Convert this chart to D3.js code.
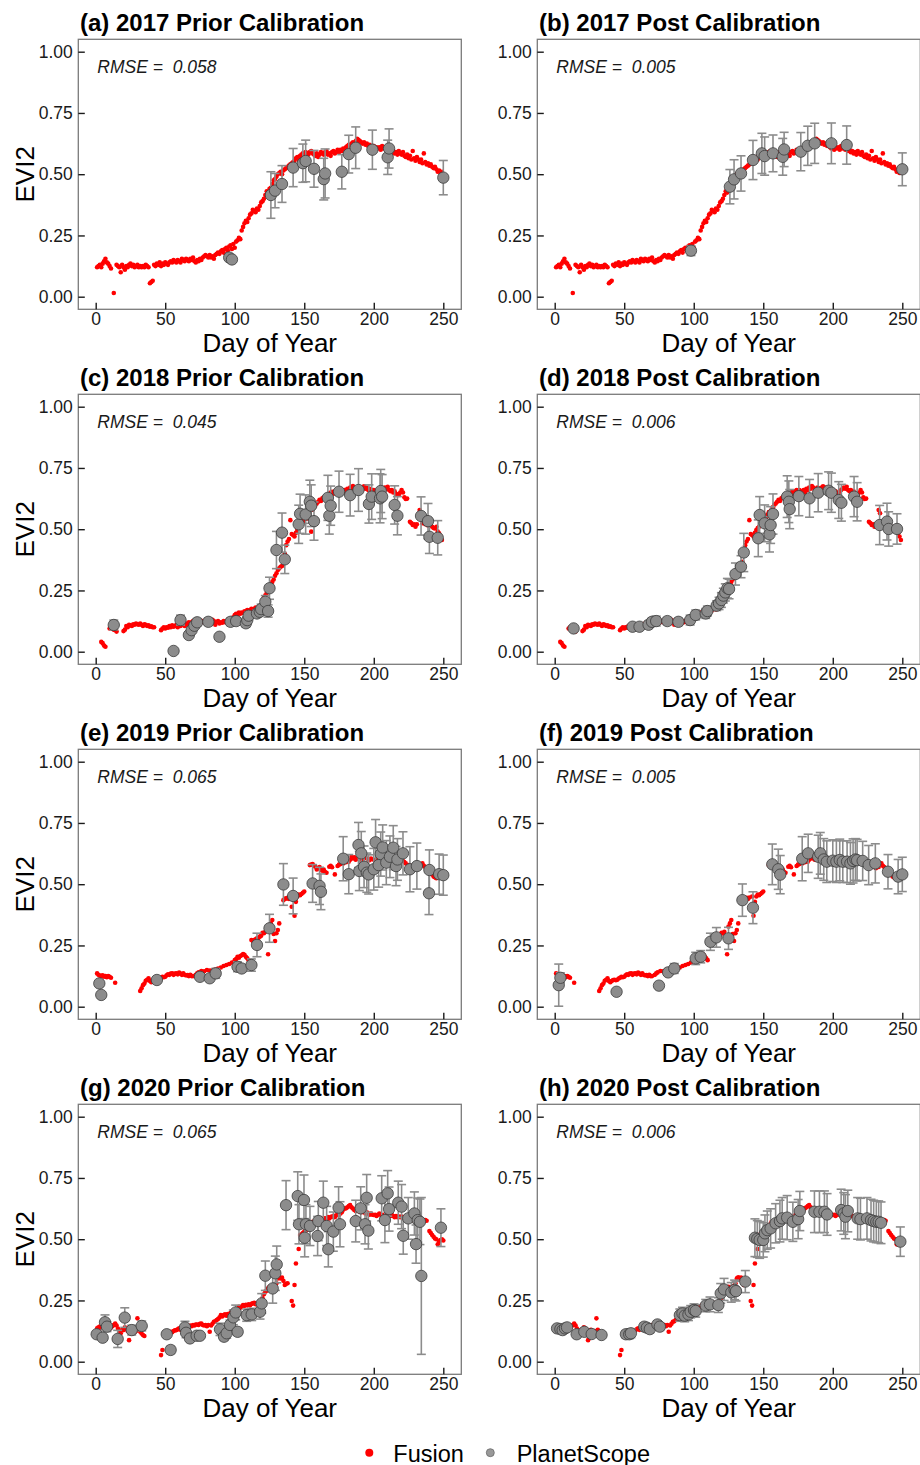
<!DOCTYPE html>
<html>
<head>
<meta charset="utf-8">
<title>EVI2 fusion vs PlanetScope</title>
<script src="https://d3js.org/d3.v7.min.js"></script>
<style>
  body { margin: 0; background: #fff; }
  text { font-family: "Liberation Sans", Arial, sans-serif; }
</style>
</head>
<body>
<svg id="chart" width="920" height="1465"></svg>
<script>
// ---- data ----
const panelTitles = [
  "(a) 2017 Prior Calibration", "(b) 2017 Post Calibration",
  "(c) 2018 Prior Calibration", "(d) 2018 Post Calibration",
  "(e) 2019 Prior Calibration", "(f) 2019 Post Calibration",
  "(g) 2020 Prior Calibration", "(h) 2020 Post Calibration"
];
const rmseLabels = ["0.058", "0.005", "0.045", "0.006", "0.065", "0.005", "0.065", "0.006"];
const xTicks = [0, 50, 100, 150, 200, 250];
const yTicks = [0, 0.25, 0.5, 0.75, 1];
const legendLabels = ["Fusion", "PlanetScope"];

// fusion series [day, EVI2] (same in prior / post panels of a year)
const fusion2017 = [[1,0.12],[2,0.125],[3,0.13],[4,0.12],[5,0.135],[6,0.145],[7,0.155],[8,0.14],[9,0.135],[10,0.125],[11,0.115],[13,0.015],[15,0.13],[16,0.125],[17,0.12],[18,0.10],[19,0.13],[20,0.12],[21,0.11],[22,0.125],[23,0.12],[24,0.13],[25,0.135],[26,0.125],[27,0.13],[28,0.12],[29,0.125],[30,0.13],[31,0.12],[32,0.125],[33,0.12],[34,0.125],[35,0.12],[36,0.13],[37,0.125],[38,0.12],[39,0.055],[40,0.06],[41,0.065],
  [42,0.13],[43,0.125],[44,0.135],[45,0.13],[46,0.14],[47,0.125],[48,0.135],[49,0.13],[50,0.14],[51,0.135],[52,0.13],[53,0.14],[54,0.145],[55,0.14],[56,0.15],[57,0.145],[58,0.14],[59,0.15],[60,0.145],[61,0.14],[62,0.155],[63,0.15],[64,0.145],[65,0.155],[66,0.15],[67,0.145],[68,0.155],[69,0.15],[70,0.16],[71,0.145],[72,0.14],[73,0.15],[74,0.145],[75,0.155],[76,0.15],[77,0.16],[78,0.165],[79,0.17],[80,0.165],[81,0.16],[82,0.17],[83,0.16],[84,0.165],[85,0.155],[86,0.17],[87,0.175],[88,0.18],[89,0.175],[90,0.185],[91,0.19],[92,0.18],[93,0.195],[94,0.2],[95,0.19],[96,0.205],[97,0.21],[98,0.195],[99,0.215],[100,0.2],
  [101,0.225],[102,0.23],[103,0.24],[104,0.235],[105,0.27],[106,0.285],[107,0.3],[108,0.31],[109,0.305],[110,0.32],[111,0.335],[112,0.34],[113,0.355],[114,0.35],[115,0.345],[116,0.36],[117,0.355],[118,0.37],[119,0.385],[120,0.39],[121,0.4],[122,0.415],[123,0.43],[124,0.425],[125,0.44],[126,0.445],[127,0.46],[128,0.475],[129,0.48],[130,0.49],[131,0.5],[132,0.505],[133,0.51],[134,0.5],[135,0.515],[136,0.52],[137,0.525],[138,0.53],[139,0.535],[140,0.54],[141,0.545],[142,0.55],[143,0.555],[144,0.565],[145,0.57],[146,0.56],[147,0.575],[148,0.58],[149,0.585],[150,0.575],
  [151,0.59],[152,0.585],[153,0.58],[154,0.59],[155,0.595],[156,0.585],[157,0.58],[158,0.575],[159,0.585],[160,0.57],[161,0.58],[162,0.59],[163,0.585],[164,0.58],[165,0.59],[166,0.595],[167,0.58],[168,0.585],[169,0.575],[170,0.59],[171,0.595],[172,0.585],[173,0.59],[174,0.6],[175,0.59],[176,0.6],[177,0.595],[178,0.605],[179,0.6],[180,0.61],[181,0.615],[182,0.62],[183,0.61],[184,0.625],[185,0.63],[186,0.62],[187,0.635],[188,0.645],[189,0.64],[190,0.635],[191,0.63],[192,0.625],[193,0.63],[194,0.62],[195,0.625],[196,0.615],[197,0.62],[198,0.61],[199,0.605],[200,0.615],
  [201,0.6],[202,0.61],[203,0.605],[204,0.61],[205,0.6],[206,0.615],[207,0.605],[208,0.61],[209,0.6],[210,0.605],[211,0.595],[212,0.6],[213,0.59],[214,0.595],[215,0.585],[216,0.59],[217,0.58],[218,0.595],[219,0.585],[220,0.58],[221,0.59],[222,0.575],[223,0.57],[224,0.58],[225,0.565],[226,0.575],[227,0.56],[228,0.595],[229,0.565],[230,0.555],[231,0.57],[232,0.56],[233,0.55],[234,0.56],[235,0.545],[236,0.585],[237,0.55],[238,0.54],[239,0.545],[240,0.535],[241,0.54],[242,0.53],[243,0.525],[244,0.53],[245,0.52],[246,0.51],[247,0.515],[248,0.505],[249,0.51]];

const fusion2018 = [[4,0.04],[5,0.035],[6,0.025],[7,0.02],[10,0.095],[11,0.1],[12,0.095],[13,0.09],[14,0.088],[15,0.082],[20,0.084],[21,0.09],[22,0.105],[23,0.1],[24,0.11],[25,0.108],[26,0.105],[27,0.112],[28,0.11],[29,0.115],[30,0.112],[31,0.11],[32,0.115],[33,0.11],[34,0.105],[35,0.112],[36,0.11],[37,0.105],[38,0.108],[39,0.102],[40,0.104],[41,0.1],[42,0.1],
  [47,0.088],[48,0.095],[49,0.1],[50,0.095],[51,0.1],[52,0.098],[53,0.105],[54,0.1],[55,0.108],[56,0.102],[57,0.105],[58,0.11],[59,0.1],[60,0.108],[61,0.105],[62,0.11],[63,0.112],[64,0.105],[65,0.115],[66,0.11],[67,0.12],[68,0.115],[69,0.12],[70,0.125],[71,0.118],[72,0.12],[73,0.125],[74,0.12],[75,0.128],[76,0.12],[77,0.125],[78,0.122],[79,0.118],[80,0.12],[81,0.125],[82,0.115],[83,0.12],[84,0.13],[85,0.125],[86,0.11],[87,0.12],[88,0.125],[89,0.115],[90,0.12],[91,0.118],[92,0.125],[93,0.12],[94,0.125],[95,0.13],[96,0.125],[97,0.13],[98,0.135],[99,0.14],[100,0.15],
  [101,0.155],[102,0.15],[103,0.16],[104,0.155],[105,0.16],[106,0.158],[107,0.165],[108,0.16],[109,0.17],[110,0.165],[111,0.17],[112,0.175],[113,0.168],[114,0.175],[115,0.18],[116,0.172],[117,0.18],[118,0.185],[119,0.19],[120,0.21],[121,0.22],[122,0.23],[123,0.24],[124,0.25],[125,0.265],[126,0.275],[127,0.285],[128,0.295],[129,0.31],[130,0.32],[131,0.333],[132,0.34],[133,0.347],[134,0.35],[135,0.367],[136,0.4],[137,0.435],[138,0.45],[139,0.46],[140,0.537],[141,0.48],[142,0.476],[143,0.47],[144,0.485],[145,0.497],[146,0.505],[147,0.51],[148,0.524],[149,0.53],[150,0.54],
  [151,0.545],[152,0.544],[153,0.56],[154,0.57],[155,0.49],[156,0.58],[157,0.59],[158,0.6],[159,0.605],[160,0.612],[161,0.62],[162,0.615],[163,0.626],[164,0.63],[165,0.625],[166,0.635],[167,0.64],[168,0.645],[169,0.65],[170,0.653],[171,0.645],[172,0.655],[173,0.65],[174,0.66],[175,0.655],[176,0.66],[177,0.65],[178,0.655],[179,0.66],[180,0.65],[181,0.665],[182,0.66],[183,0.67],[184,0.665],[185,0.676],[186,0.67],[187,0.66],[188,0.665],[189,0.67],[190,0.667],[191,0.66],[192,0.67],[193,0.675],[194,0.665],[195,0.67],[196,0.66],[197,0.665],[198,0.655],[199,0.66],[200,0.66],
  [201,0.65],[202,0.655],[203,0.645],[204,0.65],[205,0.653],[206,0.66],[207,0.665],[208,0.67],[209,0.665],[210,0.673],[211,0.66],[212,0.655],[213,0.66],[214,0.65],[215,0.655],[216,0.645],[217,0.64],[218,0.64],[219,0.65],[220,0.66],[221,0.65],[222,0.63],[223,0.623],[224,0.625],[226,0.53],[227,0.525],[228,0.517],[229,0.52],[230,0.51],[231,0.52],[233,0.578],[234,0.565],[235,0.524],[236,0.53],[237,0.52],[238,0.525],[239,0.515],[240,0.52],[241,0.515],[242,0.51],[243,0.505],[244,0.503],[245,0.51],[246,0.49],[247,0.483],[248,0.47],[249,0.456]];

const fusion2019 = [[1,0.136],[2,0.13],[3,0.127],[4,0.125],[5,0.128],[6,0.122],[7,0.125],[8,0.12],[9,0.125],[10,0.122],[11,0.118],[14,0.098],
  [32,0.064],[33,0.075],[34,0.088],[35,0.095],[36,0.106],[37,0.11],[38,0.116],[39,0.105],[40,0.1],[41,0.105],[42,0.109],[43,0.11],[44,0.108],[45,0.11],[46,0.115],[47,0.118],[48,0.122],[49,0.12],[50,0.122],[51,0.128],[52,0.132],[53,0.13],[54,0.135],[55,0.136],[56,0.13],[57,0.135],[58,0.136],[59,0.132],[60,0.139],[61,0.135],[62,0.13],[63,0.136],[64,0.13],[65,0.128],[66,0.129],[67,0.125],[68,0.13],[69,0.125],[70,0.125],[72,0.13],[73,0.136],[74,0.14],[76,0.146],[78,0.145],[80,0.15],[82,0.148],[84,0.15],[86,0.152],[88,0.156],[90,0.16],[92,0.166],[94,0.17],[96,0.174],[98,0.18],[100,0.19],
  [101,0.195],[102,0.204],[103,0.2],[104,0.207],[105,0.21],[106,0.215],[107,0.212],[108,0.204],[109,0.198],[110,0.19],[112,0.272],[113,0.268],[114,0.272],[115,0.275],[116,0.279],[117,0.28],[118,0.286],[119,0.29],[120,0.302],[121,0.3],[122,0.306],[124,0.214],[125,0.327],[126,0.34],[127,0.354],[128,0.297],[129,0.268],[130,0.3],[131,0.313],[132,0.34],[135,0.435],[136,0.44],[137,0.442],[138,0.445],[139,0.44],[140,0.446],[141,0.408],[142,0.45],[143,0.371],[144,0.428],[145,0.45],[146,0.458],[147,0.455],[148,0.46],[149,0.465],[150,0.47],
  [154,0.578],[155,0.58],[156,0.582],[157,0.575],[158,0.571],[159,0.56],[160,0.565],[161,0.57],[162,0.558],[163,0.555],[164,0.56],[165,0.55],[166,0.547],[168,0.571],[169,0.575],[170,0.569],[172,0.54],[174,0.574],[175,0.58],[176,0.582],[178,0.585],[180,0.59],[182,0.592],[183,0.6],[184,0.612],[185,0.605],[186,0.61],[187,0.6],[188,0.605],[190,0.612],[191,0.6],[192,0.605],[193,0.61],[195,0.605],[196,0.6],[197,0.598],[198,0.605],[200,0.6],
  [201,0.595],[202,0.6],[203,0.605],[205,0.601],[206,0.598],[207,0.595],[208,0.6],[210,0.605],[211,0.6],[212,0.598],[213,0.6],[215,0.605],[216,0.6],[217,0.595],[218,0.61],[220,0.6],[221,0.595],[222,0.59],[223,0.585],[225,0.578],[226,0.575],[227,0.57],[228,0.575],[230,0.57],[231,0.565],[232,0.575],[233,0.57],[235,0.585],[236,0.575],[237,0.57],[238,0.565],[239,0.56],[240,0.558],[241,0.545],[242,0.54],[243,0.531],[244,0.528],[245,0.524]];

const fusion2020 = [[1,0.136],[2,0.14],[3,0.143],[4,0.138],[5,0.14],[6,0.145],[7,0.142],[8,0.15],[9,0.14],[10,0.135],[11,0.14],[12,0.145],[13,0.15],[14,0.156],[15,0.148],[16,0.135],[17,0.125],[18,0.116],[19,0.13],[20,0.129],[21,0.14],[22,0.135],[23,0.125],[24,0.088],[25,0.12],[26,0.13],[27,0.125],[28,0.12],[29,0.125],[30,0.177],[31,0.13],[32,0.122],[33,0.115],[34,0.109],[35,0.105],
  [47,0.027],[48,0.048],[50,0.122],[51,0.118],[52,0.12],[53,0.115],[54,0.122],[55,0.12],[56,0.125],[57,0.128],[58,0.129],[59,0.132],[60,0.136],[61,0.13],[62,0.138],[63,0.143],[64,0.14],[65,0.145],[66,0.147],[67,0.142],[68,0.148],[69,0.145],[70,0.15],[71,0.148],[72,0.152],[73,0.152],[74,0.15],[75,0.155],[76,0.156],[77,0.15],[78,0.148],[79,0.15],[80,0.145],[81,0.15],[82,0.122],[83,0.148],[84,0.155],[85,0.163],[86,0.165],[87,0.17],[88,0.174],[89,0.18],[90,0.19],[91,0.185],[92,0.19],[93,0.193],[94,0.188],[95,0.195],[96,0.19],[97,0.2],[98,0.197],[99,0.2],[100,0.204],
  [101,0.21],[102,0.215],[103,0.224],[104,0.22],[105,0.225],[106,0.231],[107,0.228],[108,0.232],[109,0.23],[110,0.234],[111,0.23],[112,0.236],[113,0.238],[114,0.24],[115,0.235],[116,0.234],[117,0.24],[118,0.245],[119,0.245],[120,0.26],[121,0.275],[122,0.286],[123,0.29],[124,0.3],[125,0.306],[126,0.3],[127,0.305],[128,0.306],[129,0.31],[130,0.32],[131,0.34],[132,0.345],[133,0.34],[134,0.343],[135,0.33],[136,0.313],[137,0.318],[138,0.32],[141,0.248],[142,0.229],[143,0.313],[144,0.401],[146,0.46],[147,0.517],[148,0.52],[149,0.525],[150,0.531],
  [151,0.535],[152,0.54],[153,0.551],[154,0.555],[155,0.56],[156,0.571],[157,0.565],[158,0.57],[159,0.575],[160,0.578],[161,0.58],[162,0.575],[163,0.58],[164,0.585],[165,0.585],[166,0.58],[167,0.59],[168,0.585],[169,0.59],[170,0.592],[171,0.595],[172,0.59],[173,0.598],[174,0.6],[175,0.599],[176,0.605],[177,0.61],[178,0.62],[179,0.625],[180,0.626],[181,0.63],[182,0.635],[183,0.639],[184,0.63],[185,0.625],[186,0.619],[187,0.615],[188,0.62],[189,0.615],[190,0.612],[191,0.61],[192,0.615],[193,0.61],[194,0.605],[195,0.61],[196,0.605],[197,0.6],[198,0.605],[199,0.6],[200,0.599],
  [201,0.6],[202,0.595],[203,0.6],[204,0.605],[205,0.6],[206,0.598],[207,0.6],[208,0.595],[209,0.6],[210,0.6],[211,0.598],[212,0.595],[213,0.6],[214,0.595],[215,0.59],[216,0.595],[217,0.59],[218,0.592],[219,0.59],[220,0.592],[221,0.588],[222,0.585],[223,0.59],[224,0.585],[225,0.585],[226,0.58],[227,0.582],[228,0.578],[229,0.58],[230,0.578],[231,0.575],[232,0.578],[233,0.58],[234,0.575],[235,0.578],[236,0.575],[237,0.578],[238,0.575],[240,0.533],[241,0.525],[242,0.517],[243,0.51],[244,0.503],[245,0.5],[246,0.479],[247,0.49],[248,0.497],[249,0.5],[250,0.495]];

// PlanetScope [day, EVI2, error half-width]
const planet2017Prior = [[96,0.16,0.01],[98,0.152,0.01],[126,0.415,0.095],[129,0.433,0.07],[134,0.46,0.075],[142,0.527,0.078],[149,0.545,0.078],[151,0.554,0.085],[157,0.522,0.075],[164,0.48,0.085],[165,0.503,0.1],[177,0.51,0.07],[182,0.582,0.077],[187,0.608,0.085],[199,0.6,0.08],[210,0.569,0.07],[211,0.605,0.08],[250,0.486,0.07]];
const planet2017Post = [[98,0.188,0.02],[126,0.449,0.07],[129,0.479,0.08],[134,0.503,0.072],[142.6,0.558,0.08],[149,0.585,0.082],[151,0.574,0.078],[157,0.585,0.075],[164,0.571,0.075],[165,0.601,0.07],[177,0.592,0.078],[182,0.616,0.08],[187,0.626,0.082],[199,0.626,0.083],[210,0.619,0.078],[250,0.52,0.067]];
const planet2018Prior = [[13,0.109,0.02],[56,0.003,0],[61,0.129,0.02],[67,0.068,0.01],[69,0.088,0.01],[71,0.106,0.01],[73,0.12,0.015],[81,0.122,0.015],[89,0.061,0.01],[97,0.122,0.015],[101,0.125,0.015],[108,0.116,0.015],[109,0.129,0.015],[110,0.147,0.015],[116,0.156,0.015],[118,0.163,0.015],[119,0.174,0.02],[122,0.204,0.025],[124,0.166,0.025],[125,0.259,0.045],[130,0.415,0.076],[134,0.486,0.08],[136,0.377,0.058],[146,0.52,0.078],[147,0.563,0.08],[151,0.56,0.08],[154,0.612,0.088],[155,0.596,0.085],[157,0.533,0.078],[167,0.628,0.092],[168,0.555,0.075],[169,0.596,0.08],[175,0.653,0.084],[183,0.639,0.085],[189,0.66,0.087],[196.5,0.603,0.078],[198.5,0.633,0.093],[204.5,0.626,0.1],[205,0.656,0.088],[206,0.633,0.09],[215,0.599,0.078],[217,0.555,0.078],[234,0.554,0.078],[239,0.533,0.072],[240,0.469,0.068],[246,0.465,0.07]];
const planet2018Post = [[13.6,0.095,0.01],[56,0.102,0.012],[61,0.102,0.012],[67.5,0.11,0.015],[70,0.122,0.015],[73,0.125,0.02],[81,0.125,0.015],[89,0.122,0.015],[97.4,0.129,0.02],[101.4,0.15,0.02],[108.6,0.156,0.02],[109.8,0.166,0.02],[116.5,0.188,0.02],[118.2,0.197,0.025],[119.9,0.211,0.03],[121.3,0.229,0.03],[122.7,0.242,0.035],[124.2,0.259,0.04],[125.4,0.256,0.04],[130,0.317,0.045],[134,0.347,0.045],[136,0.405,0.078],[146.4,0.463,0.075],[147.4,0.558,0.075],[151,0.524,0.075],[154.5,0.479,0.072],[155.3,0.517,0.075],[157,0.562,0.082],[167.2,0.633,0.085],[168.4,0.612,0.085],[169,0.582,0.08],[175.6,0.635,0.08],[183.3,0.626,0.077],[189.5,0.649,0.078],[197,0.657,0.077],[199,0.649,0.08],[204.3,0.619,0.075],[206.2,0.608,0.075],[215.3,0.633,0.082],[217.5,0.612,0.078],[233.7,0.517,0.08],[239,0.531,0.075],[240.2,0.501,0.07],[246.2,0.501,0.062]];
const planet2019Prior = [[2.6,0.095,0.01],[4,0.048,0],[44,0.109,0],[75,0.122,0.01],[82,0.116,0.01],[86.3,0.136,0.02],[102,0.163,0.02],[105,0.156,0.015],[112,0.17,0.025],[116,0.252,0.048],[125,0.32,0.057],[135,0.499,0.085],[142,0.452,0.073],[156,0.503,0.077],[161,0.493,0.076],[162,0.469,0.073],[178,0.604,0.09],[182,0.541,0.08],[189,0.66,0.092],[191,0.626,0.089],[189.6,0.554,0.08],[193,0.571,0.085],[195,0.547,0.08],[196.3,0.54,0.08],[200,0.561,0.085],[201.3,0.671,0.093],[203.5,0.578,0.09],[205,0.623,0.09],[206.4,0.65,0.092],[209,0.588,0.09],[211.6,0.612,0.085],[214,0.649,0.09],[216,0.574,0.08],[217,0.601,0.085],[221,0.626,0.088],[226,0.561,0.092],[231,0.574,0.094],[240,0.558,0.082],[239.7,0.463,0.087],[247,0.541,0.082],[250,0.537,0.082]];
const planet2019Post = [[2.9,0.088,0.086],[4.1,0.118,0.02],[44.5,0.061,0],[75,0.086,0],[81.6,0.14,0.01],[86,0.156,0.02],[101.4,0.197,0.025],[105,0.204,0.025],[112,0.265,0.035],[116.3,0.283,0.04],[125,0.279,0.045],[135,0.435,0.066],[142.6,0.404,0.065],[156.5,0.581,0.083],[160.8,0.561,0.082],[162.2,0.539,0.078],[178,0.604,0.09],[182.3,0.626,0.078],[189.5,0.612,0.088],[191,0.626,0.085],[193.5,0.601,0.085],[195.7,0.592,0.085],[200,0.596,0.085],[202.6,0.592,0.085],[205,0.599,0.085],[207.2,0.592,0.085],[210.3,0.592,0.085],[212.7,0.585,0.085],[214.6,0.595,0.09],[216.3,0.601,0.085],[217.5,0.598,0.085],[221.5,0.595,0.08],[225.8,0.578,0.08],[230.6,0.585,0.08],[239.7,0.551,0.07],[247,0.531,0.07],[250,0.54,0.07]];
const planet2020Prior = [[0.7,0.112,0.01],[5,0.098,0.01],[6.7,0.161,0.03],[8.1,0.143,0.02],[15.8,0.093,0.035],[20.9,0.18,0.04],[25.9,0.129,0.02],[33.1,0.146,0.02],[51.1,0.112,0.01],[53.9,0.048,0.015],[64.2,0.14,0.025],[65,0.118,0.02],[67.8,0.095,0.01],[72.6,0.106,0.01],[75,0.106,0.01],[89.4,0.132,0.025],[92.3,0.102,0.015],[94.2,0.116,0.02],[96.6,0.15,0.02],[99,0.181,0.03],[100.7,0.201,0.03],[102.1,0.122,0.015],[108.6,0.19,0.025],[112.2,0.193,0.025],[118.2,0.204,0.03],[119.4,0.238,0.04],[122,0.351,0.06],[127.3,0.299,0.06],[129.2,0.361,0.07],[130.2,0.397,0.075],[136.9,0.639,0.1],[145.3,0.676,0.099],[146.2,0.561,0.08],[149.8,0.66,0.102],[150.3,0.506,0.078],[151.2,0.561,0.08],[154.1,0.554,0.08],[159.6,0.513,0.08],[160.1,0.574,0.08],[163.7,0.649,0.088],[166.1,0.554,0.08],[167.3,0.459,0.072],[170.9,0.531,0.08],[174.7,0.629,0.085],[175.7,0.561,0.092],[187,0.574,0.085],[190.6,0.626,0.088],[193.7,0.561,0.08],[194.9,0.669,0.095],[196.1,0.535,0.075],[205.7,0.667,0.092],[208,0.578,0.092],[210,0.687,0.093],[211,0.623,0.09],[217.6,0.649,0.088],[220,0.633,0.09],[221.2,0.514,0.075],[224.8,0.585,0.085],[229.2,0.605,0.088],[230.4,0.48,0.078],[231.6,0.578,0.09],[233.2,0.571,0.093],[234.2,0.35,0.32],[248.3,0.547,0.077]];
const planet2020Post = [[1.7,0.136,0.01],[4.1,0.133,0.01],[5.7,0.129,0.01],[7.4,0.136,0.012],[8.9,0.14,0.012],[15.8,0.112,0.01],[21.3,0.122,0.012],[26.6,0.113,0.01],[33.7,0.109,0.01],[51.2,0.112,0.015],[53.6,0.112,0.018],[54.8,0.116,0.018],[64.4,0.143,0.015],[66.3,0.139,0.015],[68.4,0.133,0.015],[73.9,0.152,0.015],[75.6,0.143,0.015],[90,0.19,0.025],[91.9,0.197,0.025],[93.5,0.188,0.025],[96.2,0.193,0.025],[97.8,0.204,0.025],[100.2,0.211,0.025],[101.4,0.207,0.025],[108.6,0.229,0.025],[111.7,0.234,0.03],[117.7,0.231,0.03],[119.4,0.279,0.04],[121.8,0.295,0.045],[127,0.283,0.04],[129.4,0.293,0.04],[130.4,0.288,0.04],[137.1,0.327,0.045],[144,0.506,0.077],[145.7,0.501,0.075],[147.4,0.497,0.075],[150,0.497,0.07],[151.2,0.524,0.075],[152.9,0.537,0.078],[155.3,0.544,0.08],[158.9,0.565,0.08],[162,0.574,0.085],[163.6,0.585,0.085],[167.2,0.588,0.09],[171.3,0.571,0.08],[175.1,0.582,0.08],[176.3,0.615,0.08],[186.8,0.612,0.085],[190.4,0.612,0.085],[194,0.612,0.085],[195.9,0.601,0.085],[206,0.619,0.085],[207.9,0.605,0.085],[209.1,0.592,0.09],[210.8,0.615,0.085],[217.9,0.585,0.085],[219.9,0.582,0.085],[224.6,0.585,0.085],[227.5,0.578,0.085],[229.4,0.574,0.085],[231.3,0.571,0.085],[233,0.571,0.085],[234.7,0.567,0.085],[248.6,0.49,0.06]];

const fusionByPanel = [fusion2017, fusion2017, fusion2018, fusion2018, fusion2019, fusion2019, fusion2020, fusion2020];
const planetByPanel = [planet2017Prior, planet2017Post, planet2018Prior, planet2018Post,
                       planet2019Prior, planet2019Post, planet2020Prior, planet2020Post];

// ---- layout ----
const svg = d3.select("#chart");
svg.append("rect").attr("width", 920).attr("height", 1465).attr("fill", "#fff");

const plotW = 383, plotH = 270;
const colX = [78.3, 537.3];
const rowY = 39.3, rowStep = 355;

panelTitles.forEach(function(title, i) {
  const col = i % 2, row = Math.floor(i / 2);
  const left = colX[col], top = rowY + row * rowStep;
  const right = left + plotW, bottom = top + plotH;

  const x = d3.scaleLinear().domain([0, 250]).range([left + 17.4, left + 365]);
  const y = d3.scaleLinear().domain([0, 1]).range([top + 257.4, top + 12.4]);

  const g = svg.append("g");

  // panel border
  g.append("rect")
    .attr("x", left).attr("y", top)
    .attr("width", plotW).attr("height", plotH)
    .attr("fill", "none").attr("stroke", "#7a7a7a").attr("stroke-width", 1.3);

  // axes with inward ticks
  const yAxis = g.append("g")
    .attr("transform", "translate(" + left + ",0)")
    .call(d3.axisLeft(y).tickValues(yTicks).tickFormat(d3.format(".2f")).tickSize(-6.5).tickPadding(5.5));
  const xAxis = g.append("g")
    .attr("transform", "translate(0," + bottom + ")")
    .call(d3.axisBottom(x).tickValues(xTicks).tickSize(-6.5).tickPadding(3.5));
  [xAxis, yAxis].forEach(function(a) {
    a.select(".domain").remove();
    a.selectAll(".tick line").attr("stroke", "#1a1a1a").attr("stroke-width", 1.4);
    a.selectAll(".tick text").attr("fill", "#1a1a1a")
      .style("font-family", '"Liberation Sans", Arial, sans-serif').style("font-size", "17.5px");
  });

  // fusion points
  g.append("g").selectAll("circle")
    .data(fusionByPanel[i])
    .join("circle")
    .attr("cx", d => x(d[0])).attr("cy", d => y(d[1]))
    .attr("r", 2.3).attr("fill", "#ff0000");

  // PlanetScope error bars
  const eb = g.append("g").attr("stroke", "#8c8c8c").attr("stroke-width", 1.6).attr("fill", "none");
  const bars = planetByPanel[i].filter(d => d[2] > 0);
  eb.selectAll("line.v").data(bars).join("line").attr("class", "v")
    .attr("x1", d => x(d[0])).attr("x2", d => x(d[0]))
    .attr("y1", d => y(d[1] - d[2])).attr("y2", d => y(d[1] + d[2]));
  eb.selectAll("line.t").data(bars).join("line").attr("class", "t")
    .attr("x1", d => x(d[0]) - 4.5).attr("x2", d => x(d[0]) + 4.5)
    .attr("y1", d => y(d[1] + d[2])).attr("y2", d => y(d[1] + d[2]));
  eb.selectAll("line.b").data(bars).join("line").attr("class", "b")
    .attr("x1", d => x(d[0]) - 4.5).attr("x2", d => x(d[0]) + 4.5)
    .attr("y1", d => y(d[1] - d[2])).attr("y2", d => y(d[1] - d[2]));

  // PlanetScope points
  g.append("g").selectAll("circle")
    .data(planetByPanel[i])
    .join("circle")
    .attr("cx", d => x(d[0])).attr("cy", d => y(d[1]))
    .attr("r", 5.7).attr("fill", "#8c8c8c")
    .attr("stroke", "#3c3c3c").attr("stroke-width", 0.8);

  // texts
  g.append("text")
    .attr("x", left + 1.7).attr("y", top - 8.6)
    .style("font-size", "24px").style("font-weight", "bold").attr("fill", "#000")
    .text(title);
  g.append("text")
    .attr("x", left + 19).attr("y", top + 33.4)
    .style("font-size", "17.5px").style("font-style", "italic").attr("fill", "#1a1a1a")
    .attr("xml:space", "preserve")
    .text("RMSE =  " + rmseLabels[i]);
  g.append("text")
    .attr("x", (left + right) / 2).attr("y", top + 313)
    .attr("text-anchor", "middle")
    .style("font-size", "26px").attr("fill", "#000")
    .text("Day of Year");
  if (col === 0) {
    g.append("text")
      .attr("transform", "translate(33.5," + (top + plotH / 2) + ") rotate(-90)")
      .attr("text-anchor", "middle")
      .style("font-size", "26px").attr("fill", "#000")
      .text("EVI2");
  }
});

// legend
const legend = svg.append("g");
legend.append("circle").attr("cx", 369.3).attr("cy", 1452.7).attr("r", 4).attr("fill", "#ff0000");
legend.append("text").attr("x", 393.3).attr("y", 1461.5)
  .style("font-size", "23.5px").attr("fill", "#000").text(legendLabels[0]);
legend.append("circle").attr("cx", 490.3).attr("cy", 1452.7).attr("r", 4)
  .attr("fill", "#999").attr("stroke", "#6a6a6a").attr("stroke-width", 0.8);
legend.append("text").attr("x", 516.7).attr("y", 1461.5)
  .style("font-size", "23.5px").attr("fill", "#000").text(legendLabels[1]);
</script>
</body>
</html>
